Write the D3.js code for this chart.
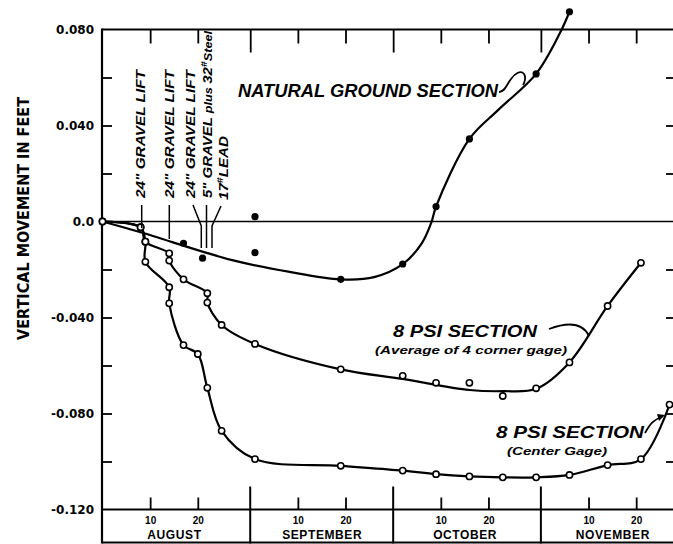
<!DOCTYPE html>
<html><head><meta charset="utf-8">
<script src="https://cdn.jsdelivr.net/npm/d3@7"></script>
<style>body{margin:0;background:#fff}</style>
</head><body>
<svg id="c" width="673" height="544"></svg>
<script>
// ---------- axis data ----------
const yTicks = [0.08, 0.04, 0, -0.04, -0.08, -0.12];
const yTickLabels = ["0.080", "0.040", "0.0", "-0.040", "-0.080", "-0.120"];
const yMinorTicks = [0.06, 0.04, 0.02, -0.02, -0.04, -0.06, -0.08, -0.10];
const months = ["AUGUST", "SEPTEMBER", "OCTOBER", "NOVEMBER"];
const monthMids = ["1955-08-15", "1955-09-15", "1955-10-15", "1955-11-15"];
const monthDividers = ["1955-08-31", "1955-09-30", "1955-10-31"];
const dayTicks = ["1955-08-10", "1955-08-20", "1955-09-10", "1955-09-20", "1955-10-10", "1955-10-20", "1955-11-10", "1955-11-20"];
const dayTickLabels = ["10", "20", "10", "20", "10", "20", "10", "20"];

// ---------- Natural ground section (filled dots + fitted curve) ----------
const naturalDates = ["1955-08-17", "1955-08-21", "1955-09-01", "1955-09-01", "1955-09-19", "1955-10-02", "1955-10-09", "1955-10-16", "1955-10-30", "1955-11-06"];
const naturalValues = [-0.0091, -0.0153, -0.0130, 0.0020, -0.0241, -0.0177, 0.0062, 0.0344, 0.0615, 0.0874];
const naturalCurveDates = ["1955-07-31", "1955-08-08", "1955-08-27", "1955-09-08", "1955-09-19", "1955-09-26", "1955-10-02", "1955-10-06", "1955-10-08", "1955-10-09", "1955-10-16", "1955-10-22", "1955-10-30", "1955-11-04", "1955-11-06"];
const naturalCurveValues = [0, -0.0045, -0.0160, -0.0209, -0.0241, -0.0232, -0.0178, -0.0091, -0.0005, 0.0062, 0.0344, 0.0464, 0.0615, 0.0785, 0.0874];

// ---------- 8 PSI section, average of 4 corner gage ----------
const cornerDates = ["1955-07-31", "1955-08-08", "1955-08-09", "1955-08-14", "1955-08-14", "1955-08-17", "1955-08-22", "1955-08-22", "1955-08-25", "1955-09-01", "1955-09-19", "1955-10-02", "1955-10-09", "1955-10-16", "1955-10-23", "1955-10-30", "1955-11-06", "1955-11-14", "1955-11-21"];
const cornerValues = [0, -0.0024, -0.0084, -0.0133, -0.0163, -0.0241, -0.0299, -0.0338, -0.0431, -0.0510, -0.0616, -0.0643, -0.0672, -0.0672, -0.0727, -0.0695, -0.0587, -0.0352, -0.0172];
const cornerCurveDates = ["1955-07-31", "1955-08-08", "1955-08-09", "1955-08-14", "1955-08-14", "1955-08-17", "1955-08-22", "1955-08-22", "1955-08-25", "1955-09-01", "1955-09-19", "1955-10-02", "1955-10-16", "1955-10-23", "1955-10-30", "1955-11-06", "1955-11-14", "1955-11-21"];
const cornerCurveValues = [0, -0.0024, -0.0084, -0.0133, -0.0163, -0.0241, -0.0299, -0.0338, -0.0431, -0.0510, -0.0616, -0.0656, -0.0702, -0.0707, -0.0697, -0.0587, -0.0352, -0.0172];

// ---------- 8 PSI section, center gage ----------
const centerDates = ["1955-07-31", "1955-08-08", "1955-08-09", "1955-08-09", "1955-08-14", "1955-08-14", "1955-08-17", "1955-08-20", "1955-08-22", "1955-08-25", "1955-09-01", "1955-09-19", "1955-10-02", "1955-10-09", "1955-10-16", "1955-10-23", "1955-10-30", "1955-11-06", "1955-11-14", "1955-11-21", "1955-11-27"];
const centerValues = [0, -0.0024, -0.0084, -0.0168, -0.0274, -0.0341, -0.0515, -0.0552, -0.0693, -0.0872, -0.0990, -0.1018, -0.1038, -0.1053, -0.1062, -0.1066, -0.1066, -0.1056, -0.1015, -0.0990, -0.0763];

// ---------- construction-event annotations ----------
const eventLabels = ['24" GRAVEL LIFT', '24" GRAVEL LIFT', '24" GRAVEL LIFT', '17# LEAD'];

// ---------- drawing ----------
const P = d3.utcParse("%Y-%m-%d");
const svg = d3.select("#c");
const x = d3.scaleUtc().domain([Date.UTC(1955, 6, 31), Date.UTC(1955, 10, 28)]).range([102.5, 674.3]);
const y = d3.scaleLinear().domain([-0.12, 0.08]).range([509.5, 29.5]);
const L = 102, R = 673, TOP = 29.5, BASE = 509.5, BOT = 542.5;
const FONT = "'Liberation Sans', Arial, sans-serif";
const HEAVY = "'DejaVu Sans', sans-serif";

function ln(x1, y1, x2, y2, w) {
  svg.append("line").attr("x1", x1).attr("y1", y1).attr("x2", x2).attr("y2", y2)
    .attr("stroke", "#000").attr("stroke-width", w || 2);
}
// frame
ln(L, TOP - 1, L, BOT + 1, 2.2);
ln(L, TOP, R, TOP, 2);
ln(L, BASE, R, BASE, 2);
ln(L, BOT, R, BOT, 2);
ln(L, y(0), R, y(0), 1.6);

function styleAxis(g) {
  g.select(".domain").remove();
  g.selectAll("line").attr("stroke", "#000").attr("stroke-width", 1.8);
  g.selectAll("text").attr("font-family", FONT).attr("font-weight", "bold").attr("fill", "#000");
}
// y labels
svg.append("g").attr("transform", `translate(${L},0)`)
  .call(d3.axisLeft(y).tickValues(yTicks).tickSize(0).tickPadding(8).tickFormat((d, i) => yTickLabels[i]))
  .call(styleAxis).selectAll("text").attr("font-family", HEAVY).attr("font-size", 12);
// inner ticks left & right
svg.append("g").attr("transform", `translate(${L},0)`)
  .call(d3.axisRight(y).tickValues(yMinorTicks).tickSize(10).tickFormat(""))
  .call(styleAxis);
svg.append("g").attr("transform", `translate(${R},0)`)
  .call(d3.axisLeft(y).tickValues(yMinorTicks).tickSize(7).tickFormat(""))
  .call(styleAxis);
// top ticks
svg.append("g").attr("transform", `translate(0,${TOP})`)
  .call(d3.axisBottom(x).tickValues(dayTicks.map(P)).tickSize(14).tickFormat(""))
  .call(styleAxis);
svg.append("g").attr("transform", `translate(0,${TOP})`)
  .call(d3.axisBottom(x).tickValues(monthDividers.map(P)).tickSize(23).tickFormat(""))
  .call(styleAxis);
// bottom day ticks and labels
svg.append("g").attr("transform", `translate(0,${BASE})`)
  .call(d3.axisTop(x).tickValues(dayTicks.map(P)).tickSize(12).tickFormat(""))
  .call(styleAxis);
svg.append("g").attr("transform", `translate(0,${BASE})`)
  .call(d3.axisBottom(x).tickValues(dayTicks.map(P)).tickSize(0).tickPadding(7).tickFormat((d, i) => dayTickLabels[i]))
  .call(styleAxis).selectAll("text").attr("font-size", 10);
// month dividers in strip
monthDividers.forEach(d => ln(x(P(d)), 486.5, x(P(d)), BOT + 1, 2));
svg.append("g").attr("transform", `translate(0,${BASE + 21})`)
  .call(d3.axisBottom(x).tickValues(monthMids.map(P)).tickSize(0).tickPadding(0).tickFormat((d, i) => months[i]))
  .call(styleAxis).selectAll("text").attr("font-size", 12).attr("letter-spacing", 0.6);

// y title
svg.append("text").attr("transform", "translate(29,218.5) rotate(-90)")
  .attr("text-anchor", "middle").attr("font-family", HEAVY).attr("font-weight", "bold")
  .attr("font-size", 15).attr("textLength", 243).attr("lengthAdjust", "spacingAndGlyphs")
  .text("VERTICAL MOVEMENT IN FEET");

// curves
const curveLine = d3.line().x(d => x(d[0])).y(d => y(d[1])).curve(d3.curveCatmullRom.alpha(0.5));
function zip(ds, vs) { return ds.map((d, i) => [P(d), vs[i]]); }
[[naturalCurveDates, naturalCurveValues], [cornerCurveDates, cornerCurveValues], [centerDates, centerValues]]
  .forEach(([ds, vs]) => svg.append("path").attr("d", curveLine(zip(ds, vs)))
    .attr("fill", "none").attr("stroke", "#000").attr("stroke-width", 2.2).attr("stroke-linejoin", "round"));

// points
svg.append("g").selectAll("circle").data(zip(naturalDates, naturalValues)).join("circle")
  .attr("cx", d => x(d[0])).attr("cy", d => y(d[1])).attr("r", 3.6).attr("fill", "#000");
[[cornerDates, cornerValues], [centerDates, centerValues]].forEach(([ds, vs]) =>
  svg.append("g").selectAll("circle").data(zip(ds, vs)).join("circle")
    .attr("cx", d => x(d[0])).attr("cy", d => y(d[1])).attr("r", 3.1)
    .attr("fill", "#fff").attr("stroke", "#000").attr("stroke-width", 1.6));

// event annotations (rotated)
function vtext(bx, by, size, len) {
  const t = svg.append("text").attr("transform", `translate(${bx},${by}) rotate(-90)`)
    .attr("font-family", FONT).attr("font-weight", "bold").attr("font-style", "italic")
    .attr("font-size", size);
  if (len) t.attr("textLength", len).attr("lengthAdjust", "spacingAndGlyphs");
  return t;
}
vtext(145, 198, 13, 128).text(eventLabels[0]);
vtext(174, 198, 13, 128).text(eventLabels[1]);
vtext(195, 198, 13, 128).text(eventLabels[2]);
{
  const t = vtext(211.5, 198, 13, 167);
  t.append("tspan").text('5" GRAVEL ');
  t.append("tspan").attr("font-size", 11).text("plus ");
  t.append("tspan").text("32");
  t.append("tspan").attr("font-size", 9).attr("dy", -5).text("#");
  t.append("tspan").attr("font-size", 11).attr("dy", 5).text("Steel");
}
{
  const t = vtext(228, 200, 13, 64);
  t.append("tspan").text("17");
  t.append("tspan").attr("font-size", 9).attr("dy", -5).text("#");
  t.append("tspan").attr("dy", 5).text("LEAD");
}
// leader lines for events
const leaders = [
  [[141.7, 205], [141.7, 228]],
  [[169.3, 205], [169.3, 239]],
  [[193, 205], [201.3, 226], [201.3, 248]],
  [[206.5, 205], [206.5, 248]],
  [[221, 206], [212, 226], [212, 248]]
];
leaders.forEach(p => svg.append("path").attr("d", d3.line()(p))
  .attr("fill", "none").attr("stroke", "#000").attr("stroke-width", 1.5));

// series labels
function label(x0, yb, size, len, txt) {
  svg.append("text").attr("x", x0).attr("y", yb).attr("font-family", FONT)
    .attr("font-weight", "bold").attr("font-style", "italic").attr("font-size", size)
    .attr("textLength", len).attr("lengthAdjust", "spacingAndGlyphs").text(txt);
}
label(238, 97, 18, 260, "NATURAL GROUND SECTION");
label(393, 337, 17, 144, "8 PSI SECTION");
label(375, 354, 11, 192, "(Average of 4 corner gage)");
label(496, 437.5, 17, 148, "8 PSI SECTION");
label(507, 455, 11, 100, "(Center Gage)");

// pointer lines from labels
const pointers = [
  "M499,92 C505,92 507,84 511,79 C515,73 521,70 524,74 C526,77 525,82 523,85",
  "M549,329 C565,323 582,321 589,336",
  "M645,433 C650,424 654,419 662,417"
];
pointers.forEach(d => svg.append("path").attr("d", d).attr("fill", "none")
  .attr("stroke", "#000").attr("stroke-width", 1.8));
svg.append("path").attr("d", "M657,414 L665,415 L659,421 Z").attr("fill", "#000");
</script>
</body></html>
